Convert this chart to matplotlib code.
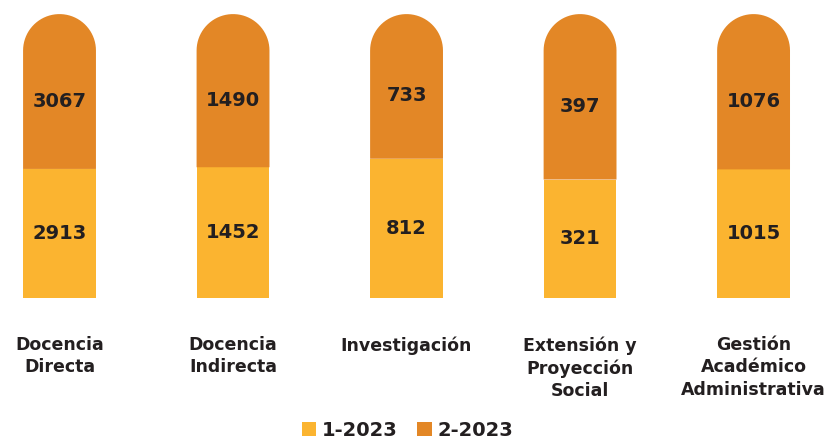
import matplotlib
matplotlib.use('Agg')
import matplotlib.pyplot as plt
import numpy as np
from matplotlib.path import Path
from matplotlib.patches import PathPatch, Patch

categorias = ['Docencia\nDirecta', 'Docencia\nIndirecta', 'Investigación',
              'Extensión y\nProyección\nSocial', 'Gestión\nAcadémico\nAdministrativa']
periodo_1 = [2913, 1452, 812, 321, 1015]
periodo_2 = [3067, 1490, 733, 397, 1076]
series = ['1-2023', '2-2023']

c1 = '#FBB430'
c2 = '#E38726'
txt = '#231F20'
plt.rcParams['font.family'] = ['DejaVu Sans']

fig = plt.figure(figsize=(8.32, 4.42), dpi=100)
ax = fig.add_axes([0, 0.326, 1, 0.599])
ax.set_xlim(-0.343, 4.452)
ax.set_ylim(0, 1)
ax.axis('off')

p1 = np.array(periodo_1, float)
p2 = np.array(periodo_2, float)
tot = p1 + p2
f1 = p1 / tot
f2 = p2 / tot

w = 0.42
x = np.arange(len(categorias))
ax.bar(x, f1, w, color=c1, linewidth=0)

# tope redondeado: media elipse que se ve circular en pixeles
fig.canvas.draw()
px = ax.transData.transform([(0, 0), (1, 1)])
sx = px[1, 0] - px[0, 0]
sy = px[1, 1] - px[0, 1]
rx = w / 2
ry = rx * sx / sy
cap_over = 0.072
t = np.linspace(np.pi, 0, 40)
for xi, b in zip(x, f1):
    top = 1 + cap_over - ry
    verts = [(xi - rx, b), (xi - rx, top)]
    verts += [(xi + rx * np.cos(a), top + ry * np.sin(a)) for a in t]
    verts += [(xi + rx, b), (xi - rx, b)]
    codes = [Path.MOVETO] + [Path.LINETO] * (len(verts) - 2) + [Path.CLOSEPOLY]
    ax.add_patch(PathPatch(Path(verts, codes), facecolor=c2, edgecolor='none',
                           clip_on=False))

for xi, a, b, v1, v2 in zip(x, f1, f2, periodo_1, periodo_2):
    ax.text(xi, a / 2, f'{v1}', ha='center', va='center', fontsize=14,
            fontweight='bold', color=txt)
    ax.text(xi, a + b / 2, f'{v2}', ha='center', va='center', fontsize=14,
            fontweight='bold', color=txt)

for xi, lab in zip(x, categorias):
    ax.text(xi, -0.145, lab, ha='center', va='top', fontsize=12.5,
            fontweight='bold', color=txt, linespacing=1.3, clip_on=False)

handles = [Patch(facecolor=c1, label=series[0]), Patch(facecolor=c2, label=series[1])]
leg = fig.legend(handles=handles, loc='lower center', ncol=2, frameon=False,
                 bbox_to_anchor=(0.49, -0.035), handlelength=0.75, handleheight=0.75,
                 handletextpad=0.3, columnspacing=1.0,
                 prop={'size': 14, 'weight': 'bold'})
for tx in leg.get_texts():
    tx.set_color(txt)

fig.savefig('out.png', dpi=100)
